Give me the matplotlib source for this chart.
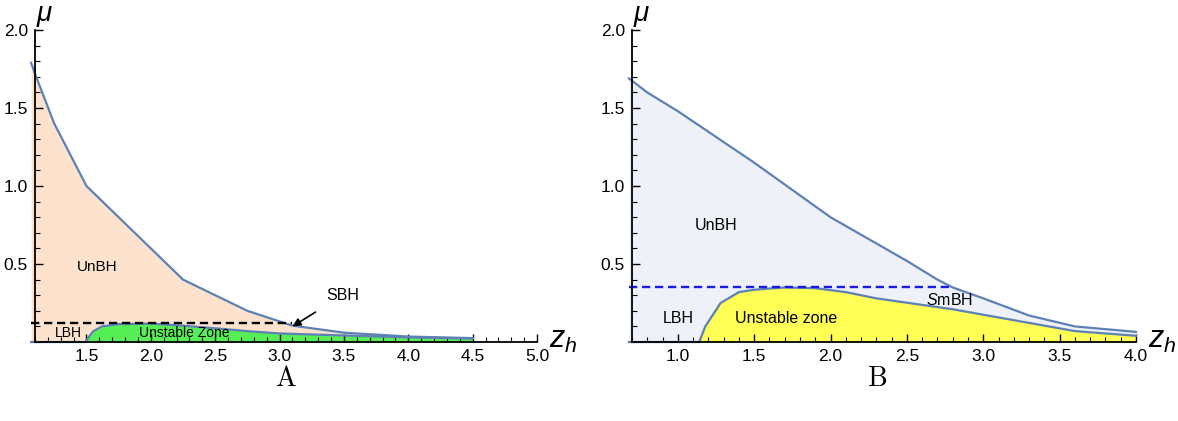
# Phase diagram panels A and B: mu versus z_h

import matplotlib.pyplot as plt
from matplotlib.ticker import MultipleLocator

plt.rcParams["font.family"] = "Liberation Sans"
plt.rcParams["mathtext.fontset"] = "custom"
plt.rcParams["mathtext.it"] = "Liberation Sans:italic"
plt.rcParams["mathtext.rm"] = "Liberation Sans"

# panel A data
zA_upper = [1.07, 1.1, 1.25, 1.375, 1.5, 1.75, 2.0, 2.25, 2.5, 2.75, 3.1, 3.5, 4.0, 4.5]
muA_upper = [1.79, 1.72, 1.40, 1.20, 1.0, 0.80, 0.60, 0.40, 0.30, 0.20, 0.105, 0.06, 0.035, 0.025]
zA_lower = [1.07, 1.49, 1.55, 1.62, 1.75, 2.0, 2.25, 2.5, 2.75, 3.0, 3.5, 4.0, 4.5]
muA_lower = [0.0, 0.0, 0.068, 0.10, 0.115, 0.118, 0.105, 0.088, 0.07, 0.055, 0.042, 0.03, 0.022]
muA_dash = 0.125
zA_dash_end = 3.1

# panel B data
zB_upper = [0.68, 0.8, 1.0, 1.5, 2.0, 2.5, 2.7, 2.8, 3.0, 3.3, 3.6, 4.0]
muB_upper = [1.69, 1.6, 1.48, 1.15, 0.80, 0.52, 0.40, 0.35, 0.28, 0.17, 0.10, 0.065]
zB_lower = [0.68, 1.14, 1.18, 1.28, 1.4, 1.5, 1.7, 1.9, 2.1, 2.3, 2.8, 3.2, 3.6, 4.0]
muB_lower = [0.0, 0.0, 0.10, 0.25, 0.32, 0.335, 0.35, 0.345, 0.32, 0.28, 0.21, 0.14, 0.07, 0.04]
muB_dash = 0.35
zB_dash_end = 2.8

line_col = "#5e81b5"

fig = plt.figure(figsize=(11.78, 4.21), dpi=100)
axA = fig.add_axes([0.0297, 0.1876, 0.4262, 0.741])
axB = fig.add_axes([0.5365, 0.1876, 0.4278, 0.741])


def interp(xs, ys, x):
    for i in range(len(xs) - 1):
        if xs[i] <= x <= xs[i + 1]:
            t = (x - xs[i]) / (xs[i + 1] - xs[i])
            return ys[i] + t * (ys[i + 1] - ys[i])
    return ys[-1]


def draw_panel(ax, zu, mu_u, zl, mu_l, bg, fg, dash_mu, dash_end, dash_col):
    # put both curves on one grid so the fills line up
    grid = sorted(set(zu) | set(zl))
    up = [interp(zu, mu_u, z) for z in grid]
    lo = [interp(zl, mu_l, z) for z in grid]
    ax.fill_between(grid, lo, up, color=bg, lw=0, clip_on=False, zorder=1)
    ax.fill_between(grid, 0, lo, color=fg, lw=0, clip_on=False, zorder=1)
    ax.plot(zu, mu_u, color=line_col, lw=1.6, clip_on=False, zorder=3)
    ax.plot(zl, mu_l, color=line_col, lw=1.6, clip_on=False, zorder=3)
    ax.plot([zu[0], dash_end], [dash_mu, dash_mu], color=dash_col, lw=1.7,
            ls=(0, (3.5, 2)), clip_on=False, zorder=4)


def style_axes(ax, xmin, xmax):
    ax.set_xlim(xmin, xmax)
    ax.set_ylim(0, 2.0)
    for s in ["top", "right"]:
        ax.spines[s].set_visible(False)
    ax.spines["left"].set_linewidth(1.3)
    ax.spines["bottom"].set_linewidth(1.3)
    ax.spines["left"].set_zorder(5)
    ax.spines["bottom"].set_zorder(5)
    ax.xaxis.set_major_locator(MultipleLocator(0.5))
    ax.xaxis.set_minor_locator(MultipleLocator(0.1))
    ax.yaxis.set_major_locator(MultipleLocator(0.5))
    ax.yaxis.set_minor_locator(MultipleLocator(0.1))
    ax.tick_params(which="major", direction="in", length=6, width=1, labelsize=12.5, pad=5)
    ax.tick_params(which="minor", direction="in", length=3.5, width=0.8)
    ax.set_xticks([t for t in ax.get_xticks() if t > xmin + 0.05 and t <= xmax + 1e-9])
    ax.set_xticklabels([f"{t:.1f}" for t in ax.get_xticks()])
    ax.set_yticks([0.5, 1.0, 1.5, 2.0])
    ax.set_yticklabels(["0.5", "1.0", "1.5", "2.0"])
    ax.text(0.02, 1.045, r"$\mu$", transform=ax.transAxes, fontsize=20, ha="center", va="center")
    ax.text(1.024, 0.005, r"$z_h$", transform=ax.transAxes, fontsize=22, ha="left", va="center")


draw_panel(axA, zA_upper, muA_upper, zA_lower, muA_lower, "#fde3cd", "#55ee55",
           muA_dash, zA_dash_end, "black")
style_axes(axA, 1.1, 5.0)
axA.text(1.58, 0.48, "UnBH", fontsize=11, ha="center", va="center")
axA.text(1.36, 0.06, "LBH", fontsize=10, ha="center", va="center")
axA.text(2.26, 0.055, "Unstable Zone", fontsize=10, ha="center", va="center", zorder=6)
axA.annotate("SBH", xy=(3.1, 0.10), xytext=(3.49, 0.30), fontsize=11.5,
             ha="center", va="center",
             arrowprops=dict(arrowstyle="-|>", color="black", lw=1.2,
                             shrinkA=9, shrinkB=0, mutation_scale=12))

draw_panel(axB, zB_upper, muB_upper, zB_lower, muB_lower, "#eef1f7", "#ffff55",
           muB_dash, zB_dash_end, "#1a1aee")
style_axes(axB, 0.7, 4.0)
axB.text(1.25, 0.75, "UnBH", fontsize=11.5, ha="center", va="center")
axB.text(1.0, 0.15, "LBH", fontsize=11.5, ha="center", va="center")
axB.text(1.71, 0.15, "Unstable zone", fontsize=11.5, ha="center", va="center")
axB.text(2.78, 0.27, r"$S$mBH", fontsize=11.5, ha="center", va="center")

fig.text(0.242, 0.10, "A", fontsize=20, ha="center", va="center", family="cmr10")
fig.text(0.745, 0.10, "B", fontsize=20, ha="center", va="center", family="cmr10")

plt.savefig("out.png", dpi=100)
